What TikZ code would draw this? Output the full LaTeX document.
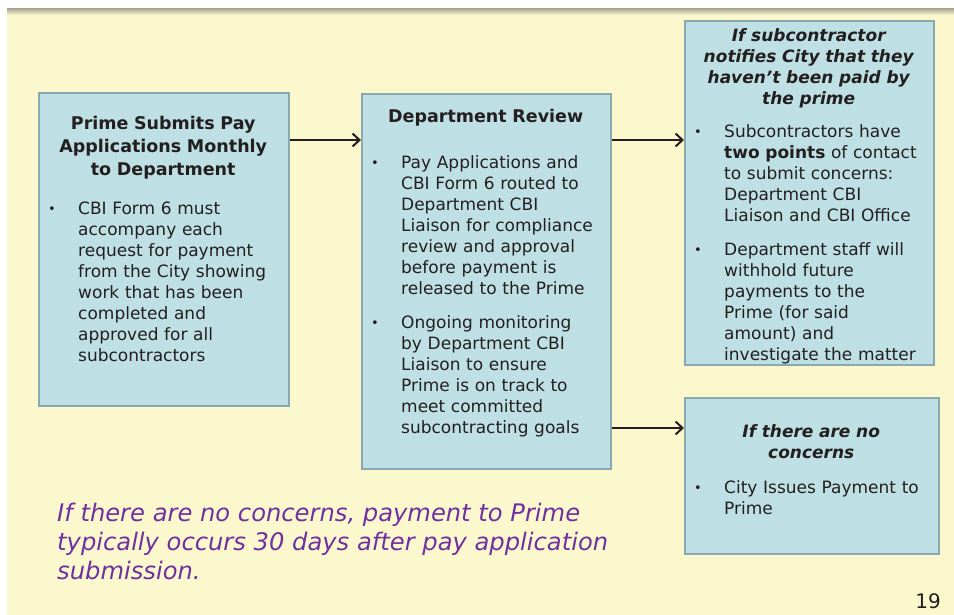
\documentclass[tikz,border=0pt]{standalone}
\usepackage{fontspec}
\setmainfont{DejaVu Sans}
\usepackage{array}
\definecolor{cream}{RGB}{252,248,206}
\definecolor{boxfill}{RGB}{190,223,228}
\definecolor{boxline}{RGB}{138,168,175}
\definecolor{ink}{RGB}{35,31,32}
\definecolor{note}{RGB}{112,48,160}
\definecolor{rule}{RGB}{178,172,150}
\usetikzlibrary{positioning,arrows.meta,calc}

% bullet line with forced breaks
\newcommand{\bul}[1]{\par\noindent\makebox[34pt][l]{\hspace{4pt}\raisebox{1pt}{\fontsize{13}{13}\selectfont\textbullet}}%
  \begin{tabular}[t]{@{}l@{}}#1\end{tabular}\par}
\newcommand{\bodyfont}{\fontsize{17}{21}\selectfont}
\newcommand{\headfont}{\fontsize{17.5}{23}\selectfont\bfseries}
\newcommand{\askfont}{\fontsize{17}{21}\selectfont\bfseries\itshape}

\begin{document}
\begin{tikzpicture}[x=1pt,y=-1pt,
  stage/.style={draw=boxline,fill=boxfill,line width=1.6pt,anchor=north west,inner sep=0pt},
  stagetext/.style={inner sep=0pt,text width=#1,align=left,font=\bodyfont,text=ink},
  flow/.style={-{Straight Barb[length=7pt,width=13pt,line width=2pt]},line width=2pt,ink}]
\useasboundingbox (0,0) rectangle (954,615);
% slide background
\fill[white] (0,0) rectangle (954,615);
\fill[cream] (7,11) rectangle (954,615);
\fill[top color=rule,bottom color=cream] (7,9) rectangle (954,15);

% boxes
\node[stage,minimum width=250pt,minimum height=313pt] (prime) at (38,92) {};
\node[stage,minimum width=249pt,minimum height=375pt] (review) at (361,93) {};
\node[stage,minimum width=249pt,minimum height=344pt] (unpaid) at (684,20) {};
\node[stage,minimum width=254pt,minimum height=156pt] (clear) at (684,397) {};

% box texts
\node[stagetext=238pt,below right=24pt and 6pt of prime.north west] (primetxt) {%
  {\centering\headfont Prime Submits Pay\\Applications Monthly\\to Department\par}
  \vspace{18pt}
  \bul{CBI Form 6 must\\accompany each\\request for payment\\from the City showing\\work that has been\\completed and\\approved for all\\subcontractors}};
\node[stagetext=237pt,below right=16pt and 6pt of review.north west] (reviewtxt) {%
  {\centering\headfont Department Review\par}
  \vspace{25pt}
  \bul{Pay Applications and\\CBI Form 6 routed to\\Department CBI\\Liaison for compliance\\review and approval\\before payment is\\released to the Prime}
  \vspace{12pt}
  \bul{Ongoing monitoring\\by Department CBI\\Liaison to ensure\\Prime is on track to\\meet committed\\subcontracting goals}};
\node[stagetext=237pt,below right=8pt and 6pt of unpaid.north west] (unpaidtxt) {%
  {\centering\askfont If subcontractor\\notifies City that they\\haven’t been paid by\\the prime\par}
  \vspace{12pt}
  \bul{Subcontractors have\\\textbf{two points} of contact\\to submit concerns:\\Department CBI\\Liaison and CBI Office}
  \vspace{12pt}
  \bul{Department staff will\\withhold future\\payments to the\\Prime (for said\\amount) and\\investigate the matter}};
\node[stagetext=242pt,below right=27pt and 6pt of clear.north west] (cleartxt) {%
  {\centering\askfont If there are no\\concerns\par}
  \vspace{14pt}
  \bul{City Issues Payment to\\Prime}};

% connectors
\draw[flow] (prime.east |- 0,140) -- (review.west |- 0,140);
\draw[flow] (review.east |- 0,140) -- (unpaid.west |- 0,140);
\draw[flow] (review.east |- 0,428) -- (clear.west |- 0,428);

% footnote and page number
\node[anchor=north west,inner sep=0pt,align=left,text=note,
  font=\fontsize{24.2}{29}\selectfont\itshape] (timing) at (57,503)
  {If there are no concerns, payment to Prime\\typically occurs 30 days after pay application\\submission.};
\node[anchor=base east,inner sep=0pt,text=ink,font=\fontsize{20}{20}\selectfont] (page) at (941,608) {19};
\end{tikzpicture}
\end{document}
